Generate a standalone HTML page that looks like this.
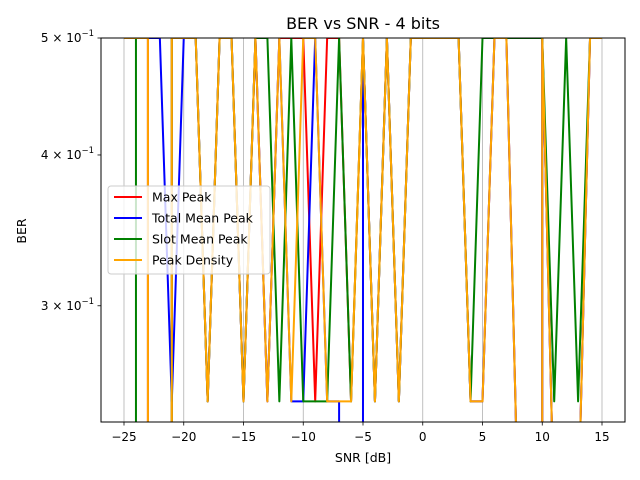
<!DOCTYPE html>
<html><head><meta charset="utf-8"><style>
html,body{margin:0;padding:0;background:#fff;width:640px;height:480px;overflow:hidden;}
svg{display:block;font-family:"DejaVu Sans","Liberation Sans",sans-serif;}
</style></head><body>
<svg id="chart" width="640" height="480" viewBox="0 0 640 480">
<defs><clipPath id="pc"><rect x="101" y="38" width="524" height="384"/></clipPath></defs>
<rect x="0" y="0" width="640" height="480" fill="#fff"/>
<g id="grid"></g>
<g id="series" clip-path="url(#pc)"></g>
<rect x="101" y="38" width="524" height="384" fill="none" stroke="#000" stroke-width="1"/>
<g id="xticks"></g>
<g id="yticks"></g>
<text x="363" y="29" text-anchor="middle" font-size="16">BER vs SNR - 4 bits</text>
<text x="363" y="462" text-anchor="middle" font-size="12.5">SNR [dB]</text>
<text x="26" y="231" text-anchor="middle" font-size="12.5" transform="rotate(-90 26 231)">BER</text>
<g>
<rect x="108" y="186" width="162" height="88" rx="3" fill="#fff" fill-opacity="0.8" stroke="#ccc"/>
<g id="legend"></g>
</g>
</svg>
<script>
const snr = [];
for (let s = -25; s <= 15; s++) snr.push(s);
const seriesNames = ["Max Peak","Total Mean Peak","Slot Mean Peak","Peak Density"];
const seriesColors = ["red","blue","green","orange"];
// values at SNR -25..15
const peakDensity   = [.5,.5,.5,0,.5,.5,.5,.25,.5,.5,.25,.5,.25,.5,.25,.5,.5,.25,.25,.25,.5,.25,.5,.25,.5,.5,.5,.5,.5,.25,.25,.5,.5,.2,0,.5,.2,0,.2,.5,.5];
const maxPeak       = [.5,.5,.5,0,.5,.5,.5,.25,.5,.5,.25,.5,.25,.5,.5,.5,.25,.5,.5,.25,.5,.25,.5,.25,.5,.5,.5,.5,.5,.25,.25,.5,.5,.2,0,.5,.2,0,.2,.5,.5];
const totalMeanPeak = [.5,.5,.5,.5,.25,.5,.5,.25,.5,.5,.25,.5,.25,.5,.25,.25,.5,.25,.25,0,.5,.25,.5,.25,.5,.5,.5,.5,.5,.25,.25,.5,.5,.2,0,.5,.2,0,.2,.5,.5];
const slotMeanPeak  = [.5,.5,0,0,.5,.5,.5,.25,.5,.5,.25,.5,.5,.25,.5,.25,.25,.25,.5,.25,.5,.25,.5,.25,.5,.5,.5,.5,.5,.25,.5,.5,.5,.5,.5,.5,.25,.5,.25,.5,.5];
const xTicks = [-25,-20,-15,-10,-5,0,5,10,15];
const yTickVals = [0.5,0.4,0.3];
const yTickMant = ["5","4","3"];

const NS = "http://www.w3.org/2000/svg";
const X0 = 124, XU = 11.95;
const Y0 = 38, YTOP = 0.5, YDEC = 1207;
const YCLIP = 426;
function xs(v){ return X0 + (v + 25) * XU; }
function ys(v){ const vv = v > 0 ? v : 1e-300; return Y0 + (Math.log10(YTOP) - Math.log10(vv)) * YDEC; }
function mk(tag, attrs){ const e = document.createElementNS(NS, tag); for (const k in attrs) e.setAttribute(k, attrs[k]); return e; }

const grid = document.getElementById("grid");
const xt = document.getElementById("xticks");
xTicks.forEach(t => {
  const x = xs(t);
  const g = mk("line", {x1:x, x2:x, y1:38, y2:422, stroke:"#b0b0b0", "stroke-width":0.8});
  
  
  grid.appendChild(g);
  const tk = mk("line", {x1:x, x2:x, y1:422, y2:425.5, stroke:"#000", "stroke-width":0.8});
  
  
  xt.appendChild(tk);
  const lb = mk("text", {x:x, y:441, "text-anchor":"middle", "font-size":12});
  lb.textContent = (t < 0 ? "\u2212" + Math.abs(t) : String(t));
  
  
  xt.appendChild(lb);
});
const yt = document.getElementById("yticks");
yTickVals.forEach((v, i) => {
  const y = ys(v);
  const tk = mk("line", {x1:97.5, x2:101, y1:y, y2:y, stroke:"#000", "stroke-width":0.8});
  
  
  yt.appendChild(tk);
  const lb = mk("text", {x:94, y:y + 4, "text-anchor":"end", "font-size":12});
  lb.innerHTML = yTickMant[i] + " \u00d7 10<tspan dy='-6' font-size='8.5'>\u22121</tspan>";
  
  
  yt.appendChild(lb);
});

// build path with segments clipped at YCLIP so coordinates stay in frame
function clippedPath(arr){
  let d = "";
  let pen = false;
  for (let j = 0; j < arr.length - 1; j++) {
    let xa = xs(snr[j]), ya = ys(arr[j]), xb = xs(snr[j+1]), yb = ys(arr[j+1]);
    if (ya > YCLIP && yb > YCLIP) { pen = false; continue; }
    let sx = xa, sy = ya, ex = xb, ey = yb;
    if (ya > YCLIP) { const t = (YCLIP - ya) / (yb - ya); sx = xa + t * (xb - xa); sy = YCLIP; pen = false; }
    if (yb > YCLIP) { const t = (YCLIP - ya) / (yb - ya); ex = xa + t * (xb - xa); ey = YCLIP; }
    if (!pen) d += "M" + sx.toFixed(2) + "," + sy.toFixed(2);
    d += "L" + ex.toFixed(2) + "," + ey.toFixed(2);
    pen = yb <= YCLIP;
  }
  return d;
}

const seriesData = [maxPeak, totalMeanPeak, slotMeanPeak, peakDensity];
const sg = document.getElementById("series");
seriesData.forEach((arr, i) => {
  const pl = mk("path", {d:clippedPath(arr), fill:"none", stroke:seriesColors[i], "stroke-width":2, "stroke-linejoin":"round"});
  
  
  sg.appendChild(pl);
});

const lg = document.getElementById("legend");
seriesNames.forEach((n, i) => {
  const y = 197 + i * 21;
  const ln = mk("line", {x1:114, x2:142, y1:y, y2:y, stroke:seriesColors[i], "stroke-width":2});
  
  
  lg.appendChild(ln);
  const tx = mk("text", {x:152, y:y + 4.5, "font-size":12.5});
  tx.textContent = n;
  
  
  lg.appendChild(tx);
});
</script>
</body></html>
